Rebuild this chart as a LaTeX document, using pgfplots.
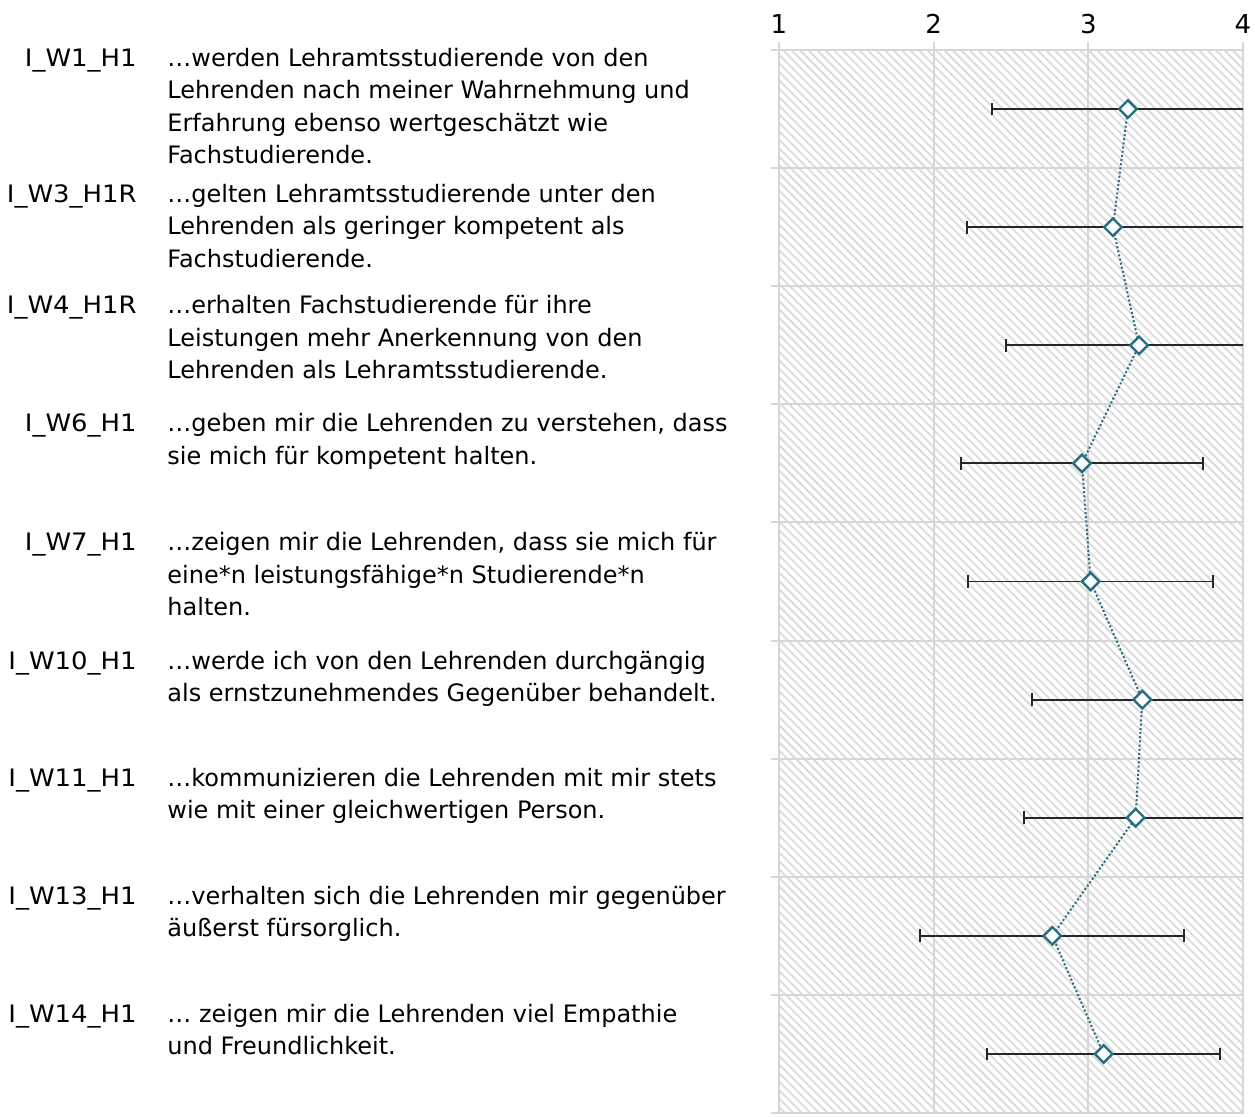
\documentclass[border=0pt]{standalone}
\usepackage{pgfplots}
\pgfplotsset{compat=1.18}
\usepackage{pgfplotstable}
\usepackage{fontspec}
\setmainfont{DejaVu Sans}
\usetikzlibrary{patterns,patterns.meta}
\definecolor{teal1}{RGB}{38,110,128}
\definecolor{gridc}{RGB}{214,214,214}
\definecolor{hatchc}{RGB}{218,218,218}

\pgfplotstableread{
y   m      e
-1  3.256  0.877
-2  3.159  0.945
-3  3.328  0.860
-4  2.959  0.782
-5  3.015  0.792
-6  3.349  0.715
-7  3.306  0.722
-8  2.767  0.853
-9  3.099  0.755
}\data

\newcommand{\lines}[1]{\begin{tabular}[t]{@{}l@{}}#1\end{tabular}}
\newcommand{\code}[1]{\scalebox{1.08}[1]{#1}}

\begin{document}
\begin{tikzpicture}
\useasboundingbox (0,0) rectangle (627.5pt,-558.5pt);
\begin{axis}[
  at={(389.5pt,-556.5pt)}, anchor=south west,
  scale only axis, width=232pt, height=531.5pt,
  xmin=1, xmax=4, ymin=-9.5, ymax=-0.5,
  xtick={1,2,3,4},
  ytick={-9.5,-8.5,...,-0.5}, yticklabels={},
  xtick pos=right, xticklabel pos=right, ytick pos=left,
  tick align=outside, major tick length=4pt,
  grid=major,
  grid style={draw=gridc, line width=1pt},
  axis line style={draw=gridc, line width=1pt},
  tick style={draw=gridc, line width=1pt},
  axis background/.style={pattern={Lines[angle=-45,distance=3pt,line width=0.9pt]}, pattern color=hatchc},
  /pgf/number format/assume math mode=true,
  xticklabel style={font=\fontsize{13}{15}\selectfont, inner sep=0pt, yshift=4pt},
]
\addplot[black!85, only marks, mark=none, forget plot,
  error bars/.cd, x dir=both, x explicit,
  error bar style={line width=0.95pt, draw=black!85},
  error mark options={line width=0.95pt, draw=black!85, mark size=3.2pt, rotate=90}]
  table[x=m, y=y, x error=e] {\data};
\addplot[teal1, line width=1pt, dash pattern=on 1pt off 1.1pt,
  mark=square*, mark size=3.1pt,
  mark options={solid, rotate=45, fill=white, draw=teal1, line width=1.2pt}]
  table[x=m, y=y] {\data};
\end{axis}
\begin{scope}[x=0.5pt, y=-0.5pt, every node/.style={inner sep=0pt, font=\fontsize{12}{16.15}\selectfont}]
\node[anchor=base east] at (137,66.5) {\code{I\_W1\_H1}};
\node[anchor=base west] at (167,66.5) {\lines{…werden Lehramtsstudierende von den\\Lehrenden nach meiner Wahrnehmung und\\Erfahrung ebenso wertgeschätzt wie\\Fachstudierende.}};
\node[anchor=base east] at (137,202.5) {\code{I\_W3\_H1R}};
\node[anchor=base west] at (167,202.5) {\lines{…gelten Lehramtsstudierende unter den\\Lehrenden als geringer kompetent als\\Fachstudierende.}};
\node[anchor=base east] at (137,314) {\code{I\_W4\_H1R}};
\node[anchor=base west] at (167,314) {\lines{…erhalten Fachstudierende für ihre\\Leistungen mehr Anerkennung von den\\Lehrenden als Lehramtsstudierende.}};
\node[anchor=base east] at (137,432) {\code{I\_W6\_H1}};
\node[anchor=base west] at (167,432) {\lines{…geben mir die Lehrenden zu verstehen, dass\\sie mich für kompetent halten.}};
\node[anchor=base east] at (137,551) {\code{I\_W7\_H1}};
\node[anchor=base west] at (167,551) {\lines{…zeigen mir die Lehrenden, dass sie mich für\\eine*n leistungsfähige*n Studierende*n\\halten.}};
\node[anchor=base east] at (137,669.5) {\code{I\_W10\_H1}};
\node[anchor=base west] at (167,669.5) {\lines{…werde ich von den Lehrenden durchgängig\\als ernstzunehmendes Gegenüber behandelt.}};
\node[anchor=base east] at (137,786.5) {\code{I\_W11\_H1}};
\node[anchor=base west] at (167,786.5) {\lines{…kommunizieren die Lehrenden mit mir stets\\wie mit einer gleichwertigen Person.}};
\node[anchor=base east] at (137,904.5) {\code{I\_W13\_H1}};
\node[anchor=base west] at (167,904.5) {\lines{…verhalten sich die Lehrenden mir gegenüber\\äußerst fürsorglich.}};
\node[anchor=base east] at (137,1022.5) {\code{I\_W14\_H1}};
\node[anchor=base west] at (167,1022.5) {\lines{… zeigen mir die Lehrenden viel Empathie\\und Freundlichkeit.}};
\end{scope}
\end{tikzpicture}
\end{document}
